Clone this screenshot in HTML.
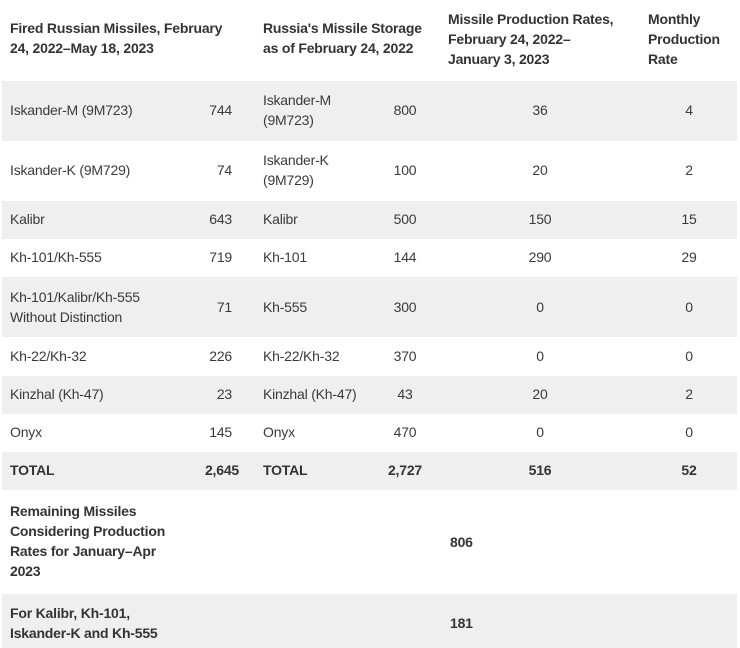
<!DOCTYPE html>
<html><head><style>
body{margin:0;width:740px;height:648px;background:#fff;font-family:"Liberation Sans",sans-serif;font-size:14px;color:#3a3a3a;position:relative;overflow:hidden;letter-spacing:-0.2px}
.r{position:absolute;left:2px;width:735px}
.g{background:#efefef}
.t{position:absolute;line-height:20px;white-space:nowrap}
.b{font-weight:bold;color:#333}
.rt{text-align:right}
.c{text-align:center;width:60px}
</style></head><body>
<div class="r g" style="top:81px;height:60px"></div>
<div class="r g" style="top:201px;height:38px"></div>
<div class="r g" style="top:277px;height:60px"></div>
<div class="r g" style="top:376px;height:38px"></div>
<div class="r g" style="top:452px;height:38px"></div>
<div class="r g" style="top:594px;height:54px"></div>

<div class="t b" style="left:10px;top:18px">Fired Russian Missiles, February<br>24, 2022–May 18, 2023</div>
<div class="t b" style="left:263px;top:18px">Russia's Missile Storage<br>as of February 24, 2022</div>
<div class="t b" style="left:448px;top:9px">Missile Production Rates,<br>February 24, 2022–<br>January 3, 2023</div>
<div class="t b" style="left:648px;top:9px">Monthly<br>Production<br>Rate</div>

<!-- rows: centers -->
<div class="t" style="left:10px;top:100px">Iskander-M (9M723)</div>
<div class="t rt" style="left:172px;width:60px;top:100px">744</div>
<div class="t" style="left:263px;top:90px">Iskander-M<br>(9M723)</div>
<div class="t c" style="left:375px;top:100px">800</div>
<div class="t c" style="left:510px;top:100px">36</div>
<div class="t c" style="left:659px;top:100px">4</div>

<div class="t" style="left:10px;top:160px">Iskander-K (9M729)</div>
<div class="t rt" style="left:172px;width:60px;top:160px">74</div>
<div class="t" style="left:263px;top:150px">Iskander-K<br>(9M729)</div>
<div class="t c" style="left:375px;top:160px">100</div>
<div class="t c" style="left:510px;top:160px">20</div>
<div class="t c" style="left:659px;top:160px">2</div>

<div class="t" style="left:10px;top:209px">Kalibr</div>
<div class="t rt" style="left:172px;width:60px;top:209px">643</div>
<div class="t" style="left:263px;top:209px">Kalibr</div>
<div class="t c" style="left:375px;top:209px">500</div>
<div class="t c" style="left:510px;top:209px">150</div>
<div class="t c" style="left:659px;top:209px">15</div>

<div class="t" style="left:10px;top:247px">Kh-101/Kh-555</div>
<div class="t rt" style="left:172px;width:60px;top:247px">719</div>
<div class="t" style="left:263px;top:247px">Kh-101</div>
<div class="t c" style="left:375px;top:247px">144</div>
<div class="t c" style="left:510px;top:247px">290</div>
<div class="t c" style="left:659px;top:247px">29</div>

<div class="t" style="left:10px;top:287px">Kh-101/Kalibr/Kh-555<br>Without Distinction</div>
<div class="t rt" style="left:172px;width:60px;top:297px">71</div>
<div class="t" style="left:263px;top:297px">Kh-555</div>
<div class="t c" style="left:375px;top:297px">300</div>
<div class="t c" style="left:510px;top:297px">0</div>
<div class="t c" style="left:659px;top:297px">0</div>

<div class="t" style="left:10px;top:346px">Kh-22/Kh-32</div>
<div class="t rt" style="left:172px;width:60px;top:346px">226</div>
<div class="t" style="left:263px;top:346px">Kh-22/Kh-32</div>
<div class="t c" style="left:375px;top:346px">370</div>
<div class="t c" style="left:510px;top:346px">0</div>
<div class="t c" style="left:659px;top:346px">0</div>

<div class="t" style="left:10px;top:384px">Kinzhal (Kh-47)</div>
<div class="t rt" style="left:172px;width:60px;top:384px">23</div>
<div class="t" style="left:263px;top:384px">Kinzhal (Kh-47)</div>
<div class="t c" style="left:375px;top:384px">43</div>
<div class="t c" style="left:510px;top:384px">20</div>
<div class="t c" style="left:659px;top:384px">2</div>

<div class="t" style="left:10px;top:422px">Onyx</div>
<div class="t rt" style="left:172px;width:60px;top:422px">145</div>
<div class="t" style="left:263px;top:422px">Onyx</div>
<div class="t c" style="left:375px;top:422px">470</div>
<div class="t c" style="left:510px;top:422px">0</div>
<div class="t c" style="left:659px;top:422px">0</div>

<div class="t b" style="left:10px;top:460px">TOTAL</div>
<div class="t b rt" style="left:160px;width:79px;top:460px">2,645</div>
<div class="t b" style="left:263px;top:460px">TOTAL</div>
<div class="t b c" style="left:375px;top:460px">2,727</div>
<div class="t b c" style="left:510px;top:460px">516</div>
<div class="t b c" style="left:659px;top:460px">52</div>

<div class="t b" style="left:10px;top:501px">Remaining Missiles<br>Considering Production<br>Rates for January–Apr<br>2023</div>
<div class="t b" style="left:450px;top:532px">806</div>

<div class="t b" style="left:10px;top:603px">For Kalibr, Kh-101,<br>Iskander-K and Kh-555</div>
<div class="t b" style="left:450px;top:613px">181</div>
</body></html>
